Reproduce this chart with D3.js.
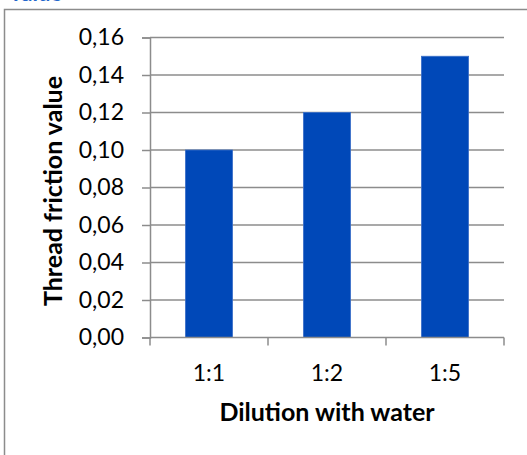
<!DOCTYPE html>
<html>
<head>
<meta charset="utf-8">
<script src="https://cdn.jsdelivr.net/npm/d3@7"></script>
<style>
  body { margin: 0; background: #fff; }
  svg { display: block; font-family: Lato, "Open Sans", sans-serif; }
</style>
</head>
<body>
<svg id="chart" width="527" height="455"></svg>
<script>
var categories = ["1:1", "1:2", "1:5"];
var values = [0.10, 0.12, 0.15];
var yTicks = [0, 0.02, 0.04, 0.06, 0.08, 0.10, 0.12, 0.14, 0.16];

var svg = d3.select("#chart");
var plotL = 150, plotR = 504, plotT = 37.5, plotB = 337.5;
var fmt = function (d) { return d3.format(".2f")(d).replace(".", ","); };

// caption cut off at the top
svg.append("text")
  .attr("x", 10).attr("y", 1)
  .attr("fill", "#2266cc").attr("font-weight", "bold").attr("font-size", 22)
  .text("value");

// outer chart border (runs off the right and bottom)
svg.append("rect")
  .attr("x", 4.5).attr("y", 9.5).attr("width", 560).attr("height", 500)
  .attr("fill", "none").attr("stroke", "#8c8c8c").attr("stroke-width", 1.5);

var x = d3.scaleBand().domain(categories).range([plotL, plotR])
  .paddingInner(0.6).paddingOuter(0.3);
var y = d3.scaleLinear().domain([0, 0.16]).range([plotB, plotT]);

// gridlines
svg.append("g").selectAll("line").data(yTicks.slice(1)).join("line")
  .attr("x1", plotL).attr("x2", plotR)
  .attr("y1", function (d) { return y(d); }).attr("y2", function (d) { return y(d); })
  .attr("stroke", "#8c8c8c").attr("stroke-width", 1.5);

// bars
svg.append("g").selectAll("rect").data(values).join("rect")
  .attr("x", function (d, i) { return x(categories[i]); })
  .attr("y", function (d) { return y(d); })
  .attr("width", x.bandwidth())
  .attr("height", function (d) { return plotB - y(d); })
  .attr("fill", "#0048b8").attr("stroke", "#3c70c8").attr("stroke-width", 0.8);

// y axis
var yAxis = svg.append("g").attr("transform", "translate(" + plotL + ",0)")
  .call(d3.axisLeft(y).tickValues(yTicks).tickFormat(fmt).tickSize(8).tickPadding(18));
// x axis with ticks at band edges
var xAxis = svg.append("g").attr("transform", "translate(0," + plotB + ")")
  .call(d3.axisBottom(x).tickSize(0).tickPadding(27));
var edges = [plotL].concat(categories.map(function (c) { return x(c) + x.bandwidth() + x.step() * 0.3; }));
xAxis.selectAll("line.edge").data(edges).join("line").attr("class", "edge")
  .attr("x1", function (d) { return d; }).attr("x2", function (d) { return d; })
  .attr("y1", 0).attr("y2", 8);

[yAxis, xAxis].forEach(function (g) {
  g.selectAll("path.domain").attr("stroke", "#8c8c8c").attr("stroke-width", 1.5);
  g.selectAll("line").attr("stroke", "#8c8c8c").attr("stroke-width", 1.5);
  g.selectAll("text").attr("font-family", "Lato, sans-serif").attr("font-size", 23).attr("fill", "#000");
});
xAxis.select("path.domain").attr("d", "M" + plotL + ",0H" + plotR);

// axis titles
svg.append("text")
  .attr("x", (plotL + plotR) / 2).attr("y", 421)
  .attr("text-anchor", "middle").attr("font-weight", "bold").attr("font-size", 25)
  .text("Dilution with water");
svg.append("text")
  .attr("transform", "translate(62," + 191 + ") rotate(-90)")
  .attr("text-anchor", "middle").attr("font-weight", "bold").attr("font-size", 25)
  .text("Thread friction value");
</script>
</body>
</html>
